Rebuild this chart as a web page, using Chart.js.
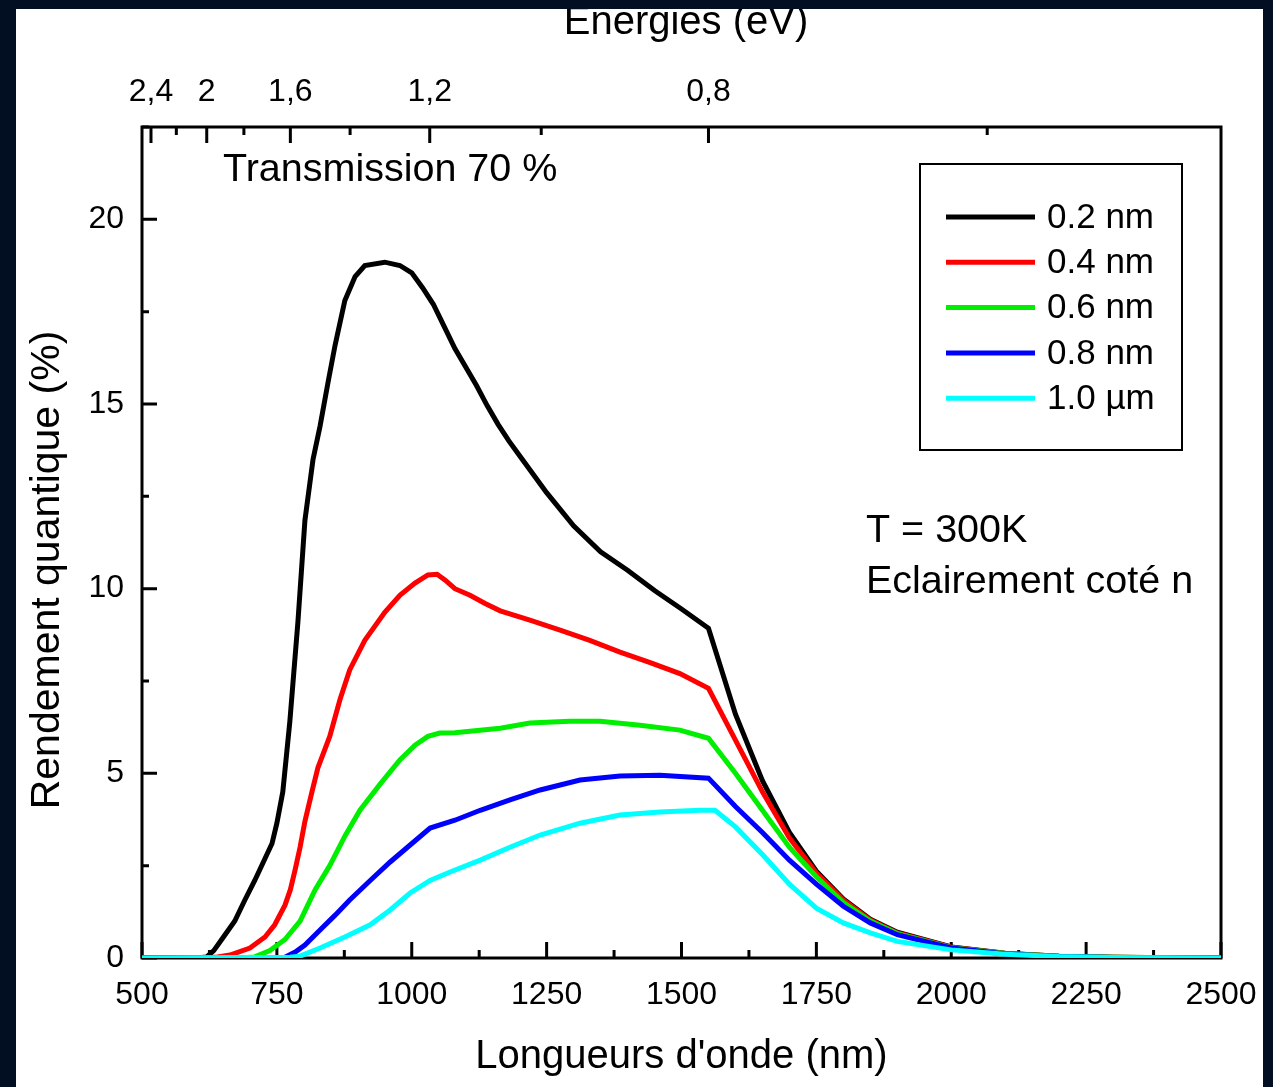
<!DOCTYPE html>
<html>
<head>
<meta charset="utf-8">
<script src="https://cdn.jsdelivr.net/npm/chart.js@4.4.1/dist/chart.umd.min.js"></script>
<style>
  html, body { margin: 0; padding: 0; background: #020f22; }
  #frame { position: absolute; left: 16px; top: 9px; width: 1247px; height: 1078px; background: #fff; overflow: hidden; }
  canvas { display: block; }
</style>
</head>
<body>
<div id="frame"><canvas id="chart" width="1247" height="1078"></canvas></div>
<script>
// quantum efficiency vs wavelength, one curve per layer thickness
const wl02 = [500, 600, 620, 633, 650, 672, 690, 709, 725, 741, 750, 761, 774, 789, 802, 817, 830, 845, 858, 876, 895, 913, 950, 978, 1000, 1020, 1040, 1060, 1080, 1100, 1120, 1140, 1160, 1180, 1200, 1250, 1300, 1350, 1400, 1450, 1500, 1550, 1600, 1650, 1700, 1750, 1800, 1850, 1900, 2000, 2100, 2200, 2300, 2400, 2500];
const qe02 = [0, 0, 0.03, 0.2, 0.55, 1.0, 1.55, 2.1, 2.6, 3.1, 3.65, 4.5, 6.4, 9.1, 11.85, 13.5, 14.4, 15.6, 16.6, 17.8, 18.45, 18.75, 18.84, 18.75, 18.55, 18.15, 17.7, 17.1, 16.5, 16.0, 15.5, 14.95, 14.45, 14.0, 13.6, 12.6, 11.7, 11.0, 10.5, 9.95, 9.45, 8.93, 6.6, 4.8, 3.4, 2.35, 1.6, 1.05, 0.7, 0.3, 0.13, 0.05, 0.02, 0.005, 0];

const wl04 = [500, 620, 640, 663, 700, 728, 746, 765, 775, 784, 793, 802, 815, 826, 848, 867, 885, 913, 950, 978, 1006, 1030, 1047, 1062, 1080, 1108, 1136, 1164, 1219, 1275, 1330, 1386, 1442, 1497, 1550, 1600, 1650, 1700, 1750, 1800, 1850, 1900, 2000, 2100, 2200, 2300, 2500];
const qe04 = [0, 0, 0.03, 0.08, 0.27, 0.57, 0.9, 1.43, 1.85, 2.4, 3.0, 3.7, 4.5, 5.15, 6.0, 7.0, 7.8, 8.6, 9.36, 9.82, 10.15, 10.37, 10.39, 10.23, 10.0, 9.82, 9.6, 9.4, 9.15, 8.88, 8.6, 8.28, 8.0, 7.7, 7.3, 5.9, 4.5, 3.25, 2.3, 1.57, 1.03, 0.68, 0.29, 0.12, 0.05, 0.02, 0];

const wl06 = [500, 680, 709, 737, 765, 793, 821, 848, 876, 904, 941, 978, 1006, 1030, 1052, 1080, 1108, 1164, 1219, 1293, 1349, 1423, 1497, 1550, 1600, 1650, 1700, 1750, 1800, 1850, 1900, 2000, 2100, 2200, 2300, 2500];
const qe06 = [0, 0, 0.03, 0.2, 0.5, 1.0, 1.85, 2.5, 3.3, 4.0, 4.7, 5.36, 5.76, 6.0, 6.09, 6.1, 6.14, 6.22, 6.36, 6.41, 6.41, 6.3, 6.17, 5.95, 5.0, 4.0, 3.0, 2.2, 1.5, 1.0, 0.66, 0.28, 0.12, 0.05, 0.02, 0];

const wl08 = [500, 740, 765, 784, 802, 830, 858, 885, 923, 960, 997, 1034, 1080, 1127, 1182, 1238, 1312, 1386, 1460, 1550, 1600, 1650, 1700, 1750, 1800, 1850, 1900, 2000, 2100, 2200, 2300, 2500];
const qe08 = [0, 0, 0.02, 0.16, 0.35, 0.76, 1.16, 1.57, 2.1, 2.6, 3.06, 3.52, 3.73, 4.0, 4.28, 4.55, 4.82, 4.93, 4.95, 4.87, 4.1, 3.4, 2.65, 2.0, 1.4, 0.95, 0.63, 0.27, 0.11, 0.04, 0.015, 0];

const wl10 = [500, 774, 793, 830, 876, 923, 960, 997, 1034, 1071, 1127, 1182, 1238, 1312, 1386, 1460, 1534, 1562, 1600, 1650, 1700, 1750, 1800, 1850, 1900, 2000, 2100, 2200, 2300, 2500];
const qe10 = [0, 0.02, 0.05, 0.27, 0.57, 0.9, 1.3, 1.76, 2.1, 2.33, 2.65, 3.0, 3.33, 3.65, 3.87, 3.95, 4.0, 4.0, 3.55, 2.8, 2.0, 1.35, 0.95, 0.68, 0.45, 0.22, 0.1, 0.04, 0.015, 0];

const seriesLabels = ['0.2 nm', '0.4 nm', '0.6 nm', '0.8 nm', '1.0 µm'];
const seriesColors = ['#000000', '#ff0000', '#00ee00', '#0000ff', '#00ffff'];
const seriesX = [wl02, wl04, wl06, wl08, wl10];
const seriesY = [qe02, qe04, qe06, qe08, qe10];

// photon energy axis on top: lambda(nm) = 1240 / E(eV)
const HC = 1240;
const energyMajor = [2.4, 2, 1.6, 1.2, 0.8];
const energyLabels = ['2,4', '2', '1,6', '1,2', '0,8'];
const energyMinor = [2.2, 1.8, 1.4, 1.0, 0.6];

const sans = "'Liberation Sans', Arial, sans-serif";

const datasets = seriesY.map((ys, i) => ({
  label: seriesLabels[i],
  data: ys.map((y, j) => ({ x: seriesX[i][j], y })),
  borderColor: seriesColors[i],
  borderWidth: 5,
  pointRadius: 0,
  tension: 0,
  order: 5 - i
}));

// fixed axis sizes, no extra room for overhanging labels
function fixSize(prop, size) {
  return s => {
    s[prop] = size;
    s.paddingLeft = s.paddingRight = s.paddingTop = s.paddingBottom = 0;
  };
}

// box, inward ticks, titles, legend and notes
const decorations = {
  id: 'decorations',
  beforeDatasetsDraw(chart) {
    const { ctx, chartArea: a, scales } = chart;
    ctx.save();
    ctx.strokeStyle = '#000';
    ctx.lineWidth = 3;
    ctx.strokeRect(a.left, a.top, a.right - a.left, a.bottom - a.top);
    ctx.beginPath();
    scales.x.ticks.forEach(t => {
      const px = scales.x.getPixelForValue(t.value);
      const len = t.value % 250 === 0 ? 16 : 8;
      ctx.moveTo(px, a.bottom);
      ctx.lineTo(px, a.bottom - len);
    });
    scales.y.ticks.forEach(t => {
      const py = scales.y.getPixelForValue(t.value);
      const len = t.value % 5 === 0 ? 15 : 7;
      ctx.moveTo(a.left, py);
      ctx.lineTo(a.left + len, py);
    });
    scales.x2.ticks.forEach(t => {
      const px = scales.x2.getPixelForValue(t.value);
      const major = energyMajor.some(e => Math.abs(HC / e - t.value) < 0.01);
      ctx.moveTo(px, a.top);
      ctx.lineTo(px, a.top + (major ? 16 : 8));
    });
    ctx.stroke();
    ctx.restore();
  },
  afterDraw(chart) {
    const { ctx, chartArea: a } = chart;
    ctx.save();
    ctx.fillStyle = '#000';
    ctx.textBaseline = 'middle';

    // axis titles
    ctx.textAlign = 'center';
    ctx.font = '40px ' + sans;
    ctx.fillText('Longueurs d\'onde (nm)', (a.left + a.right) / 2, 1048);
    ctx.fillText('Energies (eV)', 670, 14);
    ctx.save();
    ctx.translate(32, 561);
    ctx.rotate(-Math.PI / 2);
    ctx.font = '41px ' + sans;
    ctx.fillText('Rendement quantique (%)', 0, 0);
    ctx.restore();

    // notes
    ctx.textAlign = 'left';
    ctx.font = '39.5px ' + sans;
    ctx.fillText('Transmission 70 %', 207, 161);
    ctx.fillText('T = 300K', 850, 522);
    ctx.fillText('Eclairement coté n', 850, 573);

    // legend
    ctx.lineWidth = 2;
    ctx.strokeStyle = '#000';
    ctx.strokeRect(904, 155, 262, 286);
    ctx.font = '35px ' + sans;
    seriesLabels.forEach((lab, i) => {
      const y = 208 + i * 45.3;
      ctx.beginPath();
      ctx.strokeStyle = seriesColors[i];
      ctx.lineWidth = 5;
      ctx.moveTo(930, y);
      ctx.lineTo(1019, y);
      ctx.stroke();
      ctx.fillText(lab, 1031, y + 1);
    });
    ctx.restore();
  }
};

new Chart(document.getElementById('chart'), {
  type: 'line',
  data: { datasets },
  options: {
    responsive: false,
    animation: false,
    devicePixelRatio: 1,
    layout: { padding: { left: 0, top: 0, bottom: 0, right: 42 } },
    plugins: { legend: { display: false }, tooltip: { enabled: false } },
    scales: {
      x: {
        type: 'linear',
        position: 'bottom',
        min: 500,
        max: 2500,
        grid: { display: false, drawTicks: false },
        border: { display: false },
        ticks: {
          stepSize: 125,
          autoSkip: false,
          maxRotation: 0,
          padding: 18,
          color: '#000',
          font: { family: sans, size: 32 },
          callback: v => (v % 250 === 0 ? String(v) : '')
        },
        afterFit: fixSize('height', 129)
      },
      x2: {
        type: 'linear',
        position: 'top',
        min: 500,
        max: 2500,
        grid: { display: false, drawTicks: false },
        border: { display: false },
        afterBuildTicks(s) {
          s.ticks = energyMajor.concat(energyMinor)
            .map(e => HC / e)
            .sort((p, q) => p - q)
            .map(value => ({ value }));
        },
        ticks: {
          autoSkip: false,
          maxRotation: 0,
          padding: 16,
          color: '#000',
          font: { family: sans, size: 32 },
          callback(v) {
            const k = energyMajor.findIndex(e => Math.abs(HC / e - v) < 0.01);
            return k >= 0 ? energyLabels[k] : '';
          }
        },
        afterFit: fixSize('height', 118)
      },
      y: {
        type: 'linear',
        min: 0,
        max: 22.5,
        grid: { display: false, drawTicks: false },
        border: { display: false },
        ticks: {
          stepSize: 2.5,
          autoSkip: false,
          padding: 18,
          color: '#000',
          font: { family: sans, size: 32 },
          callback: v => (v % 5 === 0 ? String(v) : '')
        },
        afterFit: fixSize('width', 126)
      }
    }
  },
  plugins: [decorations]
});
</script>
</body>
</html>
